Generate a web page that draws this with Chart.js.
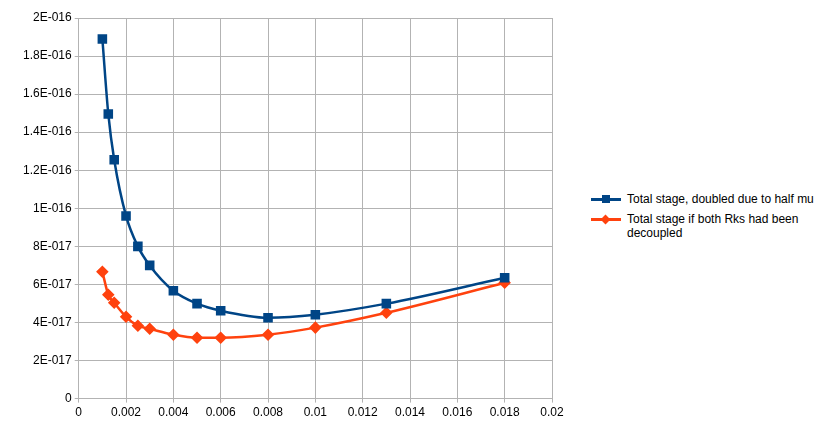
<!DOCTYPE html>
<html><head><meta charset="utf-8">
<script src="https://cdn.jsdelivr.net/npm/chart.js@4"></script>
<style>
body{margin:0;background:#fff;font-family:"Liberation Sans",Arial,sans-serif;}
#wrap{position:relative;width:832px;height:430px;}
#c{position:absolute;left:0;top:0;}
.lg{position:absolute;left:591px;font-size:12px;color:#000;line-height:14px;width:240px;}
.mk{position:absolute;left:0;top:6px;width:30px;height:3px;}
.mk i{position:absolute;left:11px;top:-3px;width:8px;height:8px;}
.tx{margin-left:36px;}
</style></head><body>
<div id="wrap">
<canvas id="c" width="570" height="430" style="width:570px;height:430px"></canvas>
<div class="lg" style="top:192px"><div class="mk" style="background:#004586"><i style="background:#004586"></i></div><div class="tx">Total stage, doubled due to half mu</div></div>
<div class="lg" style="top:212px"><div class="mk" style="background:#ff420e"><i style="background:#ff420e;transform:rotate(45deg);width:7px;height:7px;left:11px;top:-2px"></i></div><div class="tx">Total stage if both Rks had been<br>decoupled</div></div>
</div>
<script>
const xVals=[0.001,0.00125,0.0015,0.002,0.0025,0.003,0.004,0.005,0.006,0.008,0.01,0.013,0.018];
const blue=[1.89e-16,1.496e-16,1.255e-16,0.96e-16,0.80e-16,0.70e-16,0.567e-16,0.499e-16,0.462e-16,0.425e-16,0.441e-16,0.499e-16,0.635e-16];
const orange=[0.667e-16,0.546e-16,0.504e-16,0.43e-16,0.383e-16,0.367e-16,0.336e-16,0.32e-16,0.32e-16,0.336e-16,0.373e-16,0.451e-16,0.609e-16];
const seriesNames=["Total stage, doubled due to half mu","Total stage if both Rks had been decoupled"];
function fmt(v){if(Math.abs(v)<1e-30)return "0";let e=Math.floor(Math.log10(Math.abs(v))+1e-9);let m=+(v/Math.pow(10,e)).toFixed(2);if(m>=10){m/=10;e++;}return m+"E"+(e<0?"-":"+")+String(Math.abs(e)).padStart(3,"0");}
const pts=a=>xVals.map((x,i)=>({x,y:a[i]}));
new Chart(document.getElementById('c'),{type:'line',
data:{datasets:[
{label:seriesNames[0],data:pts(blue),borderColor:'#004586',backgroundColor:'#004586',borderWidth:2.5,pointStyle:'rect',pointRadius:5,cubicInterpolationMode:'monotone'},
{label:seriesNames[1],data:pts(orange),borderColor:'#ff420e',backgroundColor:'#ff420e',borderWidth:2.5,pointStyle:'rectRot',pointRadius:4.5,cubicInterpolationMode:'monotone'}]},
options:{responsive:false,animation:false,layout:{padding:{top:18,right:18,bottom:7,left:20}},
plugins:{legend:{display:false},tooltip:{enabled:false}},
scales:{x:{type:'linear',min:0,max:0.02,ticks:{stepSize:0.002,color:'#000',font:{size:12,family:'Liberation Sans'},callback:v=>+v.toFixed(3)},grid:{color:'#b3b3b3',drawTicks:true,tickLength:4},border:{color:'#b3b3b3'}},
y:{min:0,max:2e-16,ticks:{stepSize:2e-17,color:'#000',font:{size:12,family:'Liberation Sans'},callback:v=>fmt(v)},grid:{color:'#b3b3b3',tickLength:4},border:{color:'#b3b3b3'}}}}});
</script></body></html>
